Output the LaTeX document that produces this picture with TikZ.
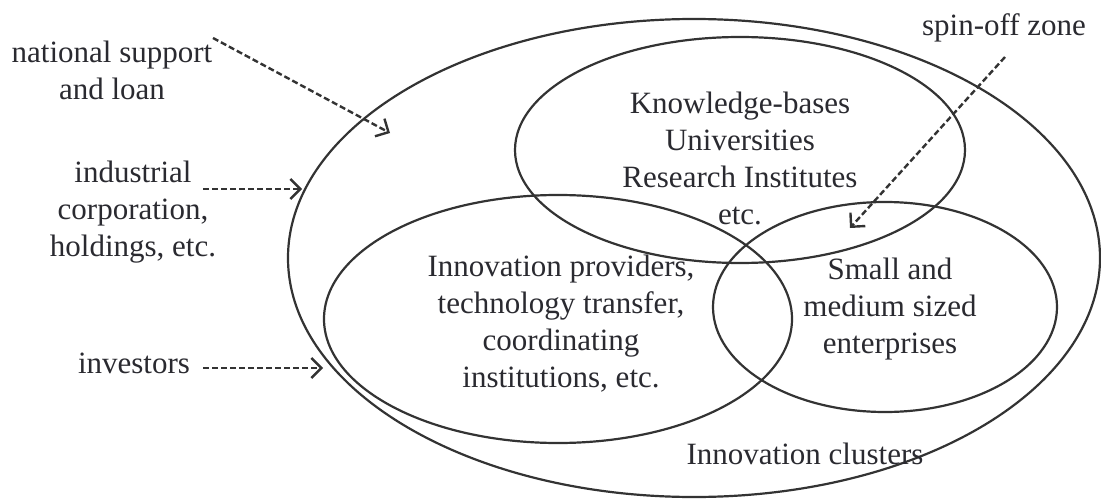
\documentclass[tikz,border=0pt]{standalone}
\usepackage{fontspec}
\setmainfont{Liberation Serif}
\usetikzlibrary{arrows.meta}
\definecolor{linecol}{HTML}{333333}
\definecolor{txtcol}{HTML}{2A2A30}
\begin{document}
\begin{tikzpicture}[x=1pt,y=-1pt,
  txt/.style={align=center,inner sep=0pt,text=txtcol,font=\fontsize{31}{37}\selectfont},
  ring/.style={draw=linecol,line width=2.2pt},
  flow/.style={draw=linecol,line width=2.4pt,dash pattern=on 6pt off 3pt,
    -{Straight Barb[length=10pt,width=20pt,line width=2.4pt]}}]
\useasboundingbox (0,0) rectangle (1101,503);
% ellipses
\draw[ring] (694,258) ellipse [x radius=406pt, y radius=239pt];
\draw[ring] (740,150) ellipse [x radius=225pt, y radius=113pt];
\draw[ring] (558,319) ellipse [x radius=234pt, y radius=124pt];
\draw[ring] (885,307) ellipse [x radius=172pt, y radius=105pt];
% texts
\node[txt] (ns) at (112,70) {national support\\and loan};
\node[txt] (ind) at (133,212) {industrial\\corporation,\\holdings, etc.};
\node[txt] (inv) at (134,363) {investors};
\node[txt] (kb) at (740,158) {Knowledge-bases\\Universities\\Research Institutes\\etc.};
\node[txt] (ip) at (561,324) {Innovation providers,\\technology transfer,\\coordinating\\institutions, etc.};
\node[txt] (sme) at (890,309) {Small and\\medium sized\\enterprises};
\node[txt] (ic) at (805,454) {Innovation clusters};
\node[txt] (so) at (1004,28) {spin-off zone};
% arrow end points
\coordinate (a1s) at (213,38);
\coordinate (a1e) at (390,133);
\coordinate (a2s) at (203,189);
\coordinate (a2e) at (302,189);
\coordinate (a3s) at (203,368);
\coordinate (a3e) at (323,368);
\coordinate (a4s) at (1005,57);
\coordinate (a4e) at (850,228);
\draw[flow] (a1s) -- (a1e);
\draw[flow] (a2s) -- (a2e);
\draw[flow] (a3s) -- (a3e);
\draw[flow] (a4s) -- (a4e);
\end{tikzpicture}
\end{document}
